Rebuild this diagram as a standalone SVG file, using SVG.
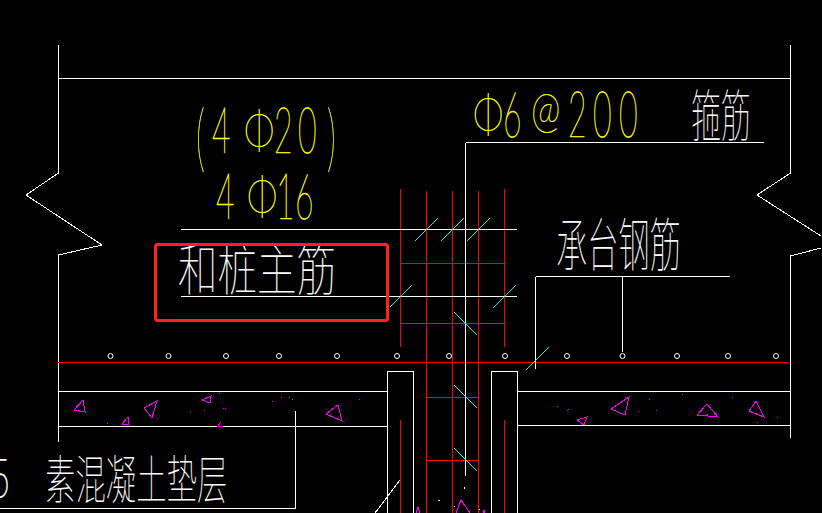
<svg xmlns="http://www.w3.org/2000/svg" width="822" height="513" viewBox="0 0 822 513">
<style>
.w{stroke:#fff;stroke-width:1;fill:none;shape-rendering:crispEdges}
.r{stroke:#f00;stroke-width:1;fill:none;shape-rendering:crispEdges}
.c{stroke:#2ee;stroke-width:1;fill:none;shape-rendering:crispEdges}
.m{stroke:#f0f;stroke-width:1;fill:none;shape-rendering:crispEdges}
.o{stroke:#fff;stroke-width:1;fill:#000}
.d{fill:#f0f}
.cn{font-family:"Noto Sans CJK SC",sans-serif;font-weight:100;fill:#fff;opacity:.99}
.y{font-family:"Lato","Roboto",sans-serif;font-weight:100;fill:#ff0;stroke:#ff0;stroke-width:.35;opacity:.99;font-size:32px}
</style>
<rect width="822" height="513" fill="#000"/>
<g id="outline">
<path class="w" d="M58.500 45V173L26 195 102 245 58.500 255V442M790.500 45V173L757 195 821 236M821 248L790.500 256V438M58 78.500H790"/>
</g>
<g id="connectors">
<path class="r" d="M58 362.500H788M400.500 189V347M426.500 191V513M452.500 191V513M478.500 191V513M504.500 189V347M401 263.500H504M401 323.500H504M427 397.500H478M427 460.500H478M400.500 420V513M504.500 420V513"/>
<path class="w" d="M181 229.500H517M181 296.500H517M465.500 142.500V476M466 142.500H764M535.500 276.500H730M535.500 277V369M622.500 277V352M387.500 372V513M387 371.500H413.500V513M491.500 372V513M491 371.500H517.500V513M58 391H387M58 426.500H387M518 391H790M518 425.500H790M295.500 411V508.500M0 508.500H296M400 480 375 513"/>
<path class="c" d="M415 241 438 218M441 241 464 218M467 241 490 218M390 307 412 285M493 308 516 285M454 312 477 335M454 385 477 408M454 448 477 471M526 370 549 347"/>
</g>
<g id="bars">
<circle class="o" cx="110.500" cy="356" r="2.500"/><circle class="o" cx="168.500" cy="356" r="2.500"/><circle class="o" cx="226" cy="356" r="2.500"/><circle class="o" cx="279" cy="356" r="2.500"/><circle class="o" cx="337" cy="356" r="2.500"/><circle class="o" cx="397" cy="356" r="2.500"/><circle class="o" cx="449" cy="356" r="2.500"/><circle class="o" cx="505" cy="356" r="2.500"/><circle class="o" cx="567" cy="356" r="2.500"/><circle class="o" cx="622.500" cy="356" r="2.500"/><circle class="o" cx="677" cy="356" r="2.500"/><circle class="o" cx="728" cy="356" r="2.500"/><circle class="o" cx="776" cy="356" r="2.500"/>
</g>
<g id="aggregate">
<path class="m" d="M83 400 74 410 85 412ZM157 401 144 408 152 418ZM211 396 202 400 210 403ZM128 417 122 424 129 425ZM338 405 326 414 342 421ZM221 422 218 426 223 426M577 420 587 417 584 425ZM611 409 629 397 625 415ZM707 404 697 415 718 417ZM756 401 749 411 764 417ZM461 500 456 513M461 500 470 513M418 507 416 513M418 507 420 513M484 510 483 513M484 510 485 513"/>
<path class="d" d="M107 423h1v1h-1zM157 418h1v1h-1zM219 393h1v1h-1zM190 412h1v1h-1zM204 410h1v1h-1zM223 408h1v1h-1zM225 408h1v1h-1zM272 401h1v1h-1zM281 397h1v1h-1zM289 397h1v1h-1zM292 399h1v1h-1zM359 399h1v1h-1zM557 406h1v1h-1zM568 409h1v1h-1zM567 410h1v1h-1zM625 397h1v1h-1zM649 399h1v1h-1zM638 411h1v1h-1zM656 410h1v1h-1zM682 394h1v1h-1zM732 397h1v1h-1zM707 414h1v1h-1zM757 422h1v1h-1zM777 417h1v1h-1z"/>
<path fill="#fff" d="M464 487h1v2h-1zM438 500h2v1h-2zM454 506h1v1h-1zM479 509h1v1h-1z"/>
</g>
<g id="label-bars">
<text class="y" transform="translate(196 163) scale(.8 1.7)" style="font-size:44px">(</text>
<text class="y" transform="translate(212 153) scale(1 2)">4</text>
<text class="y" transform="translate(244 149) scale(1.2 1.6)">Φ</text>
<text class="y" transform="translate(274 153) scale(1 2)">2</text>
<text class="y" transform="translate(298 153) scale(1 2)">0</text>
<text class="y" transform="translate(327 163) scale(.8 1.7)" style="font-size:44px">)</text>
<text class="y" transform="translate(216 219) scale(1 2)">4</text>
<text class="y" transform="translate(247 215) scale(1.2 1.6)">Φ</text>
<text class="y" transform="translate(276 219) scale(1 2)">1</text>
<text class="y" transform="translate(295 219) scale(1 2)">6</text>
</g>
<g id="label-stirrup">
<text class="y" transform="translate(473 133) scale(1.2 1.65)">Φ</text>
<text class="y" transform="translate(503 137) scale(1 2)">6</text>
<text class="y" transform="translate(531 127) scale(1.05 1.45)" style="font-size:34px">@</text>
<text class="y" transform="translate(568 137) scale(1 2)">2</text>
<text class="y" transform="translate(593 137) scale(1 2)">0</text>
<text class="y" transform="translate(619 137) scale(1 2)">0</text>
<text class="cn" transform="translate(691 136) scale(.65 1.2)" font-size="46">箍筋</text>
</g>
<g id="label-pile">
<text class="cn" transform="translate(178 290) scale(.86 1.2)" font-size="46">和桩主筋</text>
</g>
<g id="label-cap">
<text class="cn" transform="translate(556 266) scale(.68 1.25)" font-size="46">承台钢筋</text>
</g>
<g id="label-bedding">
<text class="cn" transform="translate(-9 497) scale(.85 1.3)" font-size="42">5</text>
<text class="cn" transform="translate(45 499) scale(.76 1.3)" font-size="40">素混凝土垫层</text>
</g>
<g id="highlight">
<rect x="155.500" y="244.500" width="232" height="76" rx="2" fill="none" stroke="#f22" stroke-width="3"/>
</g>
</svg>
